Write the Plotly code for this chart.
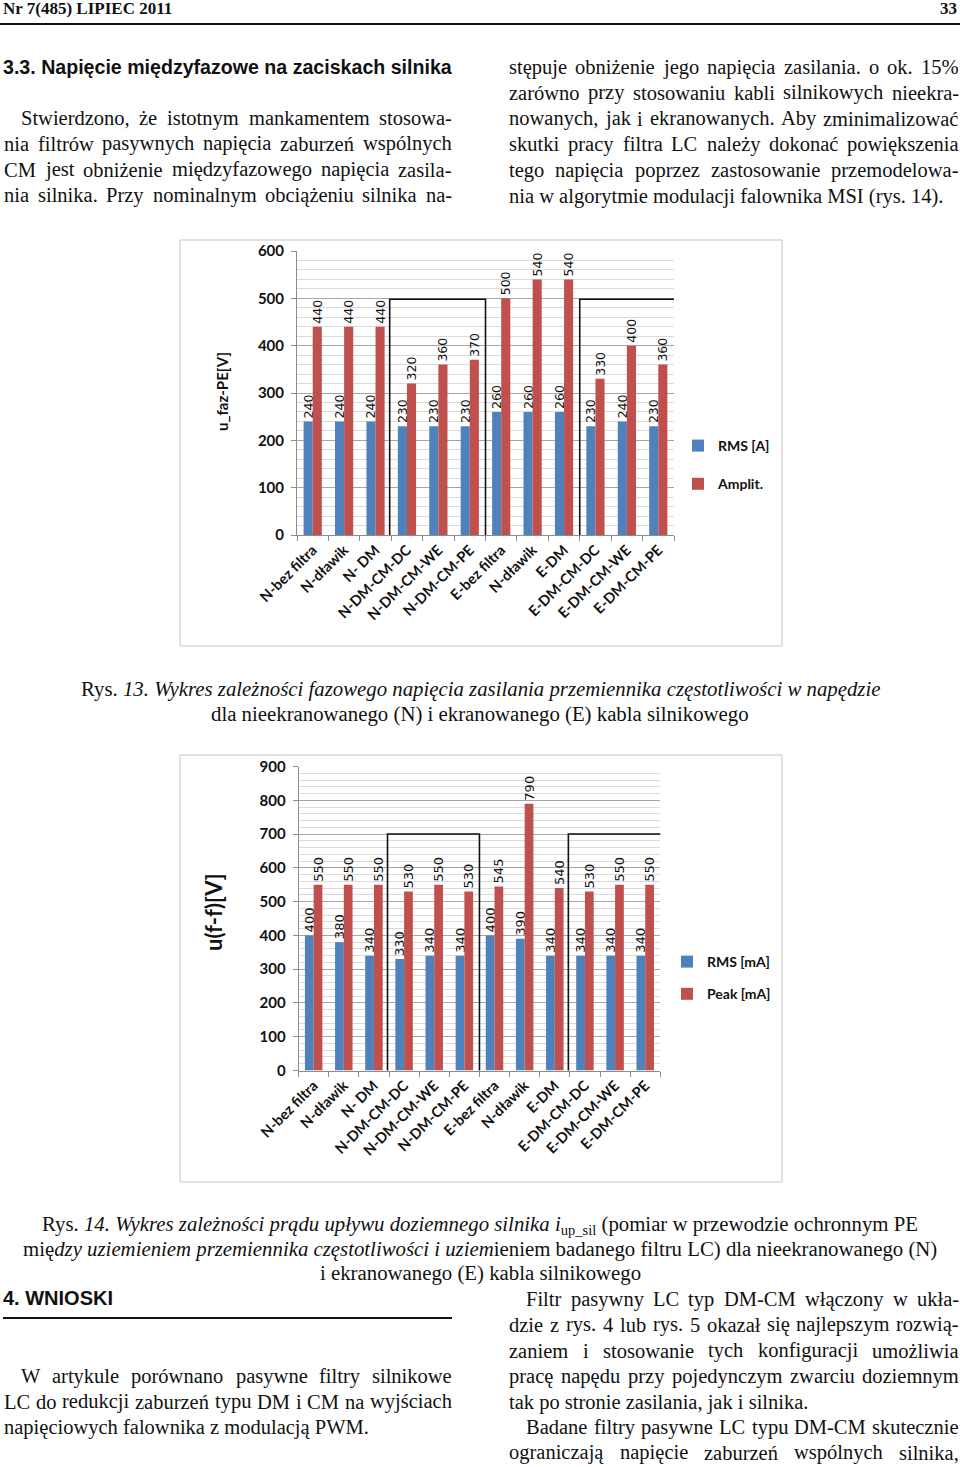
import plotly.graph_objects as go

W, H = 960, 1467

# ---------------- data ----------------
categories = ["N-bez filtra", "N-dławik", "N- DM", "N-DM-CM-DC", "N-DM-CM-WE", "N-DM-CM-PE",
              "E-bez filtra", "N-dławik", "E-DM", "E-DM-CM-DC", "E-DM-CM-WE", "E-DM-CM-PE"]
fig13_rms = [240, 240, 240, 230, 230, 230, 260, 260, 260, 230, 240, 230]
fig13_ampl = [440, 440, 440, 320, 360, 370, 500, 540, 540, 330, 400, 360]
fig14_rms = [400, 380, 340, 330, 340, 340, 400, 390, 340, 340, 340, 340]
fig14_peak = [550, 550, 550, 530, 550, 530, 545, 790, 540, 530, 550, 550]

series13 = ["RMS [A]", "Amplit."]
series14 = ["RMS [mA]", "Peak [mA]"]

header_left = "Nr 7(485) LIPIEC 2011"
header_right = "33"
heading_33 = "3.3. Napięcie międzyfazowe na zaciskach silnika"
heading_4 = "4. WNIOSKI"

left_top = ["Stwierdzono, że istotnym mankamentem stosowa-",
            "nia filtrów pasywnych napięcia zaburzeń wspólnych",
            "CM jest obniżenie międzyfazowego napięcia zasila-",
            "nia silnika. Przy nominalnym obciążeniu silnika na-"]
right_top = ["stępuje obniżenie jego napięcia zasilania. o ok. 15%",
             "zarówno przy stosowaniu kabli silnikowych nieekra-",
             "nowanych, jak i ekranowanych. Aby zminimalizować",
             "skutki pracy filtra LC należy dokonać powiększenia",
             "tego napięcia poprzez zastosowanie przemodelowa-",
             "nia w algorytmie modulacji falownika MSI (rys. 14)."]
left_bottom = ["W artykule porównano pasywne filtry silnikowe",
               "LC do redukcji zaburzeń typu DM i CM na wyjściach",
               "napięciowych falownika z modulacją PWM."]
right_bottom = ["Filtr pasywny LC typ DM-CM włączony w ukła-",
                "dzie z rys. 4 lub rys. 5 okazał się najlepszym rozwią-",
                "zaniem i stosowanie tych konfiguracji umożliwia",
                "pracę napędu przy pojedynczym zwarciu doziemnym",
                "tak po stronie zasilania, jak i silnika.",
                "Badane filtry pasywne LC typu DM-CM skutecznie",
                "ograniczają napięcie zaburzeń wspólnych silnika,"]

caption13 = ["Rys. <i>13. Wykres zależności fazowego napięcia zasilania przemiennika częstotliwości w napędzie</i>",
             "dla nieekranowanego (N) i ekranowanego (E) kabla silnikowego"]
caption14 = ["Rys. <i>14. Wykres zależności prądu upływu doziemnego silnika i</i><sub>up_sil</sub> (pomiar w przewodzie ochronnym PE",
             "mię<i>dzy uziemieniem przemiennika częstotliwości i uziem</i>ieniem badanego filtru LC) dla nieekranowanego (N)",
             "i ekranowanego (E) kabla silnikowego"]

BLUE = "#4F81BD"
RED = "#C0504D"
SERIF = "Liberation Serif, Times New Roman, serif"
NARROW = "Liberation Sans Narrow, Arial Narrow, Liberation Sans, sans-serif"
CAL = "Lato, Open Sans, sans-serif"
VER = "DejaVu Sans, Verdana, sans-serif"

def px(x):
    return x / W

def py(y):
    return 1 - y / H

# Times / Liberation Serif advance widths (1/1000 em)
TW = {}
for ch, w in zip("abcdefghijklmnopqrstuvwxyz",
                 [444, 500, 444, 500, 444, 333, 500, 500, 278, 278, 500, 278, 778, 500, 500, 500, 500, 333, 389, 278, 500, 500, 722, 500, 500, 444]):
    TW[ch] = w
for ch, w in zip("ABCDEFGHIJKLMNOPQRSTUVWXYZ",
                 [722, 667, 667, 722, 611, 556, 722, 722, 333, 389, 722, 611, 889, 722, 722, 556, 722, 667, 556, 611, 722, 722, 944, 722, 722, 611]):
    TW[ch] = w
for ch in "0123456789":
    TW[ch] = 500
TW.update({" ": 250, ".": 250, ",": 250, "-": 333, "(": 333, ")": 333, "%": 833, ":": 278,
           "ą": 444, "ę": 444, "ć": 444, "ń": 500, "ó": 500, "ś": 389, "ł": 278, "ż": 444, "ź": 444,
           "Ż": 611, "Ś": 556, "Ł": 611})

def tw(s, size):
    return sum(TW.get(c, 500) for c in s) * size / 1000.0

annotations = []
BODY = 20.5
CAP = 20.8

def text_line(s, x0, x1, y, justify=True, size=BODY):
    words = s.split()
    if not justify or len(words) < 2:
        annotations.append(dict(text=s, x=px(x0), y=py(y), xref="paper", yref="paper",
                                xanchor="left", yanchor="middle", showarrow=False, borderpad=0,
                                font=dict(family=SERIF, size=size, color="#111")))
        return
    widths = [tw(w, size) for w in words]
    gap = (x1 - x0 - sum(widths)) / (len(words) - 1)
    x = x0
    for w, wd in zip(words, widths):
        annotations.append(dict(text=w, x=px(x), y=py(y), xref="paper", yref="paper",
                                xanchor="left", yanchor="middle", showarrow=False, borderpad=0,
                                font=dict(family=SERIF, size=size, color="#111")))
        x += wd + gap

def paragraph(lines, x0, x1, y0, indent_first=True, last_ragged=True, pitch=25.8, indent=17):
    for i, s in enumerate(lines):
        xs = x0 + (indent if (i == 0 and indent_first) else 0)
        ragged = last_ragged and i == len(lines) - 1
        text_line(s, xs, x1, y0 + i * pitch, justify=not ragged)

# ---- page text ----
annotations.append(dict(text="<b>" + header_left + "</b>", x=px(2), y=py(9), xref="paper", yref="paper",
                        xanchor="left", yanchor="middle", showarrow=False, borderpad=0,
                        font=dict(family=SERIF, size=17, color="#111")))
annotations.append(dict(text="<b>" + header_right + "</b>", x=px(958), y=py(9), xref="paper", yref="paper",
                        xanchor="right", yanchor="middle", showarrow=False, borderpad=0,
                        font=dict(family=SERIF, size=17, color="#111")))
annotations.append(dict(text="<b>" + heading_33 + "</b>", x=px(2), y=py(67), xref="paper", yref="paper",
                        xanchor="left", yanchor="middle", showarrow=False, borderpad=0,
                        font=dict(family=NARROW, size=19.6, color="#111")))
annotations.append(dict(text="<b>" + heading_4 + "</b>", x=px(2), y=py(1298), xref="paper", yref="paper",
                        xanchor="left", yanchor="middle", showarrow=False, borderpad=0,
                        font=dict(family=NARROW, size=20, color="#111")))

paragraph(left_top, 3, 451, 118, indent_first=True, last_ragged=False)
paragraph(right_top, 508, 958, 67, indent_first=False, last_ragged=True)
paragraph(left_bottom, 3, 451, 1376, indent_first=True, last_ragged=True)
paragraph(right_bottom[:5], 508, 958, 1299, indent_first=True, last_ragged=True)
paragraph(right_bottom[5:], 508, 958, 1427, indent_first=True, last_ragged=False)

for i, s in enumerate(caption13):
    annotations.append(dict(text=s, x=px(480), y=py(689 + i * 24.5), xref="paper", yref="paper",
                            xanchor="center", yanchor="middle", showarrow=False, borderpad=0,
                            font=dict(family=SERIF, size=CAP, color="#111")))
for i, s in enumerate(caption14):
    annotations.append(dict(text=s, x=px(480), y=py(1225 + i * 24), xref="paper", yref="paper",
                            xanchor="center", yanchor="middle", showarrow=False, borderpad=0,
                            font=dict(family=SERIF, size=CAP, color="#111")))

# y-axis titles
annotations.append(dict(text="<b>u_faz-PE[V]</b>", x=px(222), y=py(392), xref="paper", yref="paper",
                        textangle=-90, xanchor="center", yanchor="middle", showarrow=False,
                        font=dict(family=CAL, size=15, color="#111")))
annotations.append(dict(text="<b>u(f-f)[V]</b>", x=px(213), y=py(912), xref="paper", yref="paper",
                        textangle=-90, xanchor="center", yanchor="middle", showarrow=False,
                        font=dict(family=CAL, size=22, color="#111")))

# ---------------- figure ----------------
fig = go.Figure()
xs = list(range(len(categories)))

def add_bars(vals, name, color, xa, ya, legend, group, fsize):
    fig.add_trace(go.Bar(
        x=xs, y=vals, name=name, marker=dict(color=color, line=dict(width=0)),
        xaxis=xa, yaxis=ya, legend=legend, legendgroup=group,
        text=[str(v) for v in vals], textposition="outside", textangle=-90,
        constraintext="none", cliponaxis=False,
        textfont=dict(family=VER, size=fsize, color="#111"),
    ))

add_bars(fig13_rms, series13[0], BLUE, "x", "y", "legend", "a1", 12.5)
add_bars(fig13_ampl, series13[1], RED, "x", "y", "legend", "a2", 12.5)
add_bars(fig14_rms, series14[0], BLUE, "x2", "y2", "legend2", "b1", 13)
add_bars(fig14_peak, series14[1], RED, "x2", "y2", "legend2", "b2", 13)

minor_x = [i - 0.5 for i in range(len(categories) + 1)]

def xaxis_cfg(domain, anchor):
    return dict(domain=domain, anchor=anchor, range=[-0.5, len(categories) - 0.5],
                automargin=False,
                tickmode="array", tickvals=xs, ticktext=categories, tickangle=-45,
                tickfont=dict(family=CAL, size=14.5, color="#111", weight="bold"),
                showgrid=False, zeroline=False, showline=True, linecolor="#8c8c8c", linewidth=1,
                ticks="", minor=dict(tickmode="array", tickvals=minor_x, ticks="outside",
                                     ticklen=5, tickcolor="#8c8c8c", showgrid=False),
                fixedrange=True)

def yaxis_cfg(domain, anchor, top):
    return dict(domain=domain, anchor=anchor, range=[0, top], dtick=100, tick0=0,
                automargin=False,
                tickfont=dict(family=CAL, size=15, color="#111", weight="bold"),
                showgrid=True, gridcolor="#a6a6a6", gridwidth=1,
                minor=dict(dtick=20, showgrid=True, gridcolor="#dadada", gridwidth=1),
                zeroline=False, showline=True, linecolor="#8c8c8c", linewidth=1,
                ticks="outside", ticklen=5, tickcolor="#8c8c8c", ticklabelstandoff=4,
                fixedrange=True)

x1d = [px(297), px(674)]
y1d = [py(535), py(251)]
x2d = [px(298.6), px(660.3)]
y2d = [py(1070.5), py(766.5)]

shapes = [
    # page rules
    dict(type="line", xref="paper", yref="paper", x0=0, x1=1, y0=py(24), y1=py(24),
         line=dict(color="#111", width=2)),
    dict(type="line", xref="paper", yref="paper", x0=px(3), x1=px(452), y0=py(1318), y1=py(1318),
         line=dict(color="#111", width=2)),
    # chart frames
    dict(type="rect", xref="paper", yref="paper", x0=px(180), x1=px(782), y0=py(646), y1=py(240),
         line=dict(color="#c4c4c4", width=1), layer="below"),
    dict(type="rect", xref="paper", yref="paper", x0=px(180), x1=px(782), y0=py(1182), y1=py(755),
         line=dict(color="#c4c4c4", width=1), layer="below"),
    # highlight boxes
    dict(type="rect", xref="x", yref="y", x0=2.45, x1=5.5, y0=-32, y1=498,
         line=dict(color="#111", width=1.6)),
    dict(type="rect", xref="x", yref="y", x0=8.5, x1=11.6, y0=-32, y1=498,
         line=dict(color="#111", width=1.6)),
    dict(type="rect", xref="x2", yref="y2", x0=2.45, x1=5.5, y0=-46, y1=700,
         line=dict(color="#111", width=1.6)),
    dict(type="rect", xref="x2", yref="y2", x0=8.45, x1=11.7, y0=-46, y1=700,
         line=dict(color="#111", width=1.6)),
]

fig.update_layout(
    width=W, height=H, autosize=False,
    margin=dict(l=0, r=0, t=0, b=0, pad=0, autoexpand=False),
    paper_bgcolor="white", plot_bgcolor="white",
    barmode="group", bargap=0.42, bargroupgap=0,
    xaxis=xaxis_cfg(x1d, "y"), yaxis=yaxis_cfg(y1d, "x", 600),
    xaxis2=xaxis_cfg(x2d, "y2"), yaxis2=yaxis_cfg(y2d, "x2", 900),
    showlegend=True,
    legend=dict(x=px(678), y=py(465), xanchor="left", yanchor="middle", traceorder="grouped",
                tracegroupgap=17, bgcolor="rgba(0,0,0,0)",
                font=dict(family=CAL, size=14, color="#111", weight="bold")),
    legend2=dict(x=px(667), y=py(978), xanchor="left", yanchor="middle", traceorder="grouped",
                 tracegroupgap=11, bgcolor="rgba(0,0,0,0)",
                 font=dict(family=CAL, size=14, color="#111", weight="bold")),
    annotations=annotations,
    shapes=shapes,
)

fig.write_html("out.html", config={"displayModeBar": False, "staticPlot": False},
               post_script="document.body.style.margin='0px';document.body.style.overflow='hidden';")
